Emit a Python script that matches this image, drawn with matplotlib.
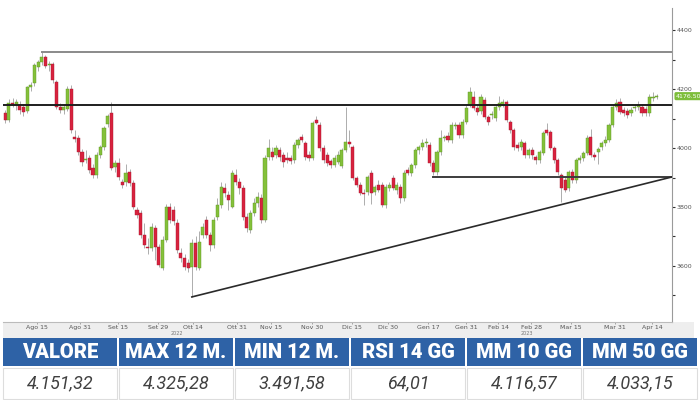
import matplotlib.pyplot as plt
import matplotlib.transforms as mtransforms
from matplotlib.patches import Rectangle

# daily candles (index 0 = first session shown)
opens = [4119, 4095, 4153, 4150, 4146, 4140, 4125, 4207, 4220, 4275,
         4291, 4308, 4280, 4285, 4225, 4140, 4128, 4132, 4200, 4038,
         4034, 3987, 3960, 3966, 3932, 3908, 3976, 4003, 4080, 4119,
         3935, 3949, 3885, 3885, 3919, 3882, 3790, 3780, 3705, 3665,
         3661, 3728, 3665, 3593, 3688, 3800, 3790, 3746, 3644, 3627,
         3610, 3597, 3678, 3593, 3705, 3756, 3705, 3671, 3766, 3807,
         3865, 3841, 3800, 3908, 3885, 3865, 3766, 3722, 3780, 3814,
         3831, 3756, 3970, 3986, 3976, 3993, 3976, 3966, 3966, 3959,
         4010, 4037, 4017, 3976, 3966, 4095, 4078, 4000, 3976, 3955,
         3942, 3952, 3940, 3993, 4020, 4003, 3898, 3875, 3848, 3851,
         3915, 3851, 3875, 3875, 3807, 3865, 3898, 3858, 3868, 3831,
         3925, 3915, 3942, 3993, 4003, 4017, 4010, 3949, 3919, 3986,
         4034, 4040, 4027, 4075, 4078, 4044, 4088, 4146, 4173, 4136,
         4125, 4163, 4105, 4112, 4102, 4139, 4146, 4156, 4088, 4061,
         4010, 4003, 4017, 3976, 3993, 3969, 3959, 3983, 4061, 4054,
         4000, 3959, 3908, 3892, 3865, 3919, 3892, 3959, 3966, 3983,
         4037, 3976, 3986, 4003, 4017, 4027, 4078, 4139, 4156, 4129,
         4125, 4119, 4136, 4139, 4139, 4132, 4119, 4170, 4173]
highs = [4130, 4165, 4170, 4168, 4160, 4150, 4212, 4225, 4288, 4300,
         4325.28, 4315, 4295, 4292, 4232, 4152, 4145, 4210, 4215, 4060,
         4045, 3998, 3995, 3975, 3945, 3985, 4012, 4075, 4115, 4156,
         3958, 3965, 3895, 3945, 3928, 3890, 3800, 3790, 3745, 3695,
         3745, 3740, 3675, 3700, 3810, 3812, 3805, 3760, 3660, 3640,
         3622, 3690, 3700, 3720, 3745, 3770, 3715, 3765, 3830, 3885,
         3880, 3855, 3925, 3930, 3900, 3875, 3780, 3790, 3830, 3850,
         3845, 3975, 4030, 4003, 4010, 4005, 3985, 3985, 3975, 4020,
         4035, 4048, 4025, 3990, 4092, 4110, 4088, 4010, 3985, 3962,
         3975, 3990, 4000, 4139, 4060, 4012, 3905, 3885, 3860, 3910,
         3925, 3875, 3890, 3885, 3878, 3885, 3910, 3885, 3878, 3925,
         3935, 3950, 4000, 4012, 4030, 4035, 4020, 3958, 3995, 4060,
         4045, 4055, 4090, 4090, 4088, 4098, 4145, 4207, 4195, 4145,
         4185, 4172, 4112, 4125, 4148, 4175, 4165, 4163, 4095, 4068,
         4020, 4030, 4025, 4000, 4003, 3978, 3995, 4058, 4085, 4060,
         4008, 3965, 3915, 3905, 3925, 3930, 3965, 3975, 3990, 4045,
         4065, 3985, 4003, 4025, 4040, 4085, 4146, 4165, 4170, 4140,
         4135, 4140, 4148, 4158, 4150, 4142, 4185, 4190, 4185]
lows = [4085, 4088, 4138, 4130, 4115, 4110, 4118, 4195, 4212, 4262,
        4282, 4270, 4262, 4222, 4132, 4120, 4115, 4125, 4052, 4020,
        3978, 3940, 3950, 3915, 3898, 3900, 3965, 3995, 4072, 3925,
        3920, 3890, 3865, 3870, 3872, 3792, 3762, 3695, 3660, 3640,
        3650, 3620, 3596, 3585, 3680, 3745, 3740, 3645, 3615, 3588,
        3580, 3495, 3588, 3585, 3695, 3695, 3650, 3662, 3755, 3795,
        3835, 3790, 3795, 3875, 3845, 3755, 3715, 3712, 3770, 3800,
        3745, 3748, 3960, 3960, 3965, 3955, 3935, 3950, 3945, 3950,
        4000, 4020, 3960, 3955, 3958, 4080, 3990, 3950, 3940, 3932,
        3935, 3945, 3932, 3985, 4005, 3890, 3868, 3840, 3807, 3842,
        3810, 3840, 3850, 3800, 3798, 3855, 3858, 3845, 3815, 3822,
        3908, 3905, 3932, 3980, 3995, 4005, 3940, 3910, 3910, 3975,
        4025, 4020, 4018, 4065, 4035, 4035, 4080, 4138, 4128, 4112,
        4115, 4098, 4078, 4098, 4092, 4130, 4138, 4088, 4052, 3995,
        3990, 3995, 3965, 3965, 3962, 3945, 3950, 3975, 4045, 3992,
        3950, 3910, 3817, 3850, 3855, 3882, 3882, 3950, 3955, 3975,
        3968, 3960, 3945, 3995, 4008, 4020, 4070, 4130, 4115, 4110,
        4102, 4110, 4125, 4130, 4110, 4108, 4110, 4160, 4165]
closes = [4095, 4153, 4150, 4155, 4129, 4122, 4207, 4214, 4281, 4291,
          4308, 4278, 4285, 4230, 4140, 4130, 4138, 4200, 4061, 4032,
          3987, 3952, 3964, 3925, 3908, 3976, 4003, 4068, 4108, 3932,
          3949, 3902, 3875, 3915, 3882, 3800, 3773, 3705, 3671, 3661,
          3732, 3665, 3603, 3688, 3800, 3756, 3752, 3654, 3627, 3597,
          3593, 3678, 3597, 3681, 3732, 3705, 3671, 3756, 3807, 3868,
          3848, 3824, 3915, 3885, 3865, 3766, 3729, 3780, 3814, 3834,
          3756, 3966, 4000, 3970, 4000, 3970, 3952, 3959, 3956, 4010,
          4027, 4027, 3970, 3966, 4085, 4085, 4000, 3959, 3949, 3942,
          3966, 3975, 3993, 4020, 4015, 3898, 3875, 3848, 3845, 3902,
          3848, 3868, 3858, 3807, 3868, 3875, 3865, 3875, 3831, 3915,
          3915, 3942, 3993, 4003, 4017, 4020, 3949, 3919, 3986, 4034,
          4037, 4027, 4078, 4078, 4044, 4088, 4136, 4190, 4136, 4122,
          4173, 4105, 4088, 4115, 4139, 4153, 4156, 4095, 4061, 4003,
          4000, 4020, 3976, 3993, 3976, 3959, 3986, 4051, 4051, 4000,
          3959, 3919, 3865, 3858, 3919, 3892, 3959, 3966, 3983, 4034,
          3976, 3969, 3997, 4017, 4027, 4078, 4139, 4153, 4122, 4119,
          4112, 4129, 4139, 4146, 4119, 4119, 4173, 4173, 4176]

tick_pos = [8.7, 20.5, 30.9, 41.8, 51.4, 63.4, 72.7, 83.9, 94.8, 104.6,
            115.6, 126, 134.7, 143.7, 154.6, 166.7, 176.8]
tick_labels = ["Ago 15", "Ago 31", "Set 15", "Set 29", "Ott 14", "Ott 31",
               "Nov 15", "Nov 30", "Dic 15", "Dic 30", "Gen 17", "Gen 31",
               "Feb 14", "Feb 28", "Mar 15", "Mar 31", "Apr 14"]
year_pos = [47, 142.6]
year_labels = ["2022", "2023"]
y_ticks = [3600, 3800, 4000, 4200, 4400]
y_minor = [3500, 3700, 3900, 4100, 4300]

max_12m = 4325.28
max_start = 10
resistance = 4146
support = 3902
support_start = 117
trend_start_x, trend_start_y = 51, 3495
last_label = "4176.50"

headers = ["VALORE", "MAX 12 M.", "MIN 12 M.", "RSI 14 GG", "MM 10 GG", "MM 50 GG"]
values = ["4.151,32", "4.325,28", "3.491,58", "64,01", "4.116,57", "4.033,15"]

GREEN = "#84c13a"
RED = "#d8223e"
BLUE = "#2e62a6"

fig = plt.figure(figsize=(7, 4), dpi=100)

# background / table layer in pixel coordinates
bg = fig.add_axes([0, 0, 1, 1], zorder=0)
bg.set_xlim(0, 700)
bg.set_ylim(400, 0)
bg.axis("off")
bg.add_patch(Rectangle((3, 322), 691, 16, color="#eeeeee", lw=0))

cell_w = 114
for k in range(len(headers)):
    x0 = 3 + k * 116
    bg.add_patch(Rectangle((x0, 338), cell_w, 28, color=BLUE, lw=0))
    bg.add_patch(Rectangle((x0, 367.5), cell_w, 31, fc="white", ec="#dddddd", lw=0.8))
    bg.text(x0 + cell_w / 2, 352.5, headers[k], ha="center", va="center",
            color="white", fontsize=14.5, fontweight="heavy", family=["Roboto", "DejaVu Sans"])
    bg.text(x0 + cell_w / 2, 383, values[k], ha="center", va="center",
            color="#404040", fontsize=13, fontstyle="italic", fontweight="normal",
            family=["Roboto", "DejaVu Sans"])

# price chart
ax = fig.add_axes([3 / 700, 78 / 400, 669 / 700, 314 / 400], zorder=1)
ax.set_facecolor("white")
xmax = 182.2
ax.set_xlim(-0.6, xmax)
ax.set_ylim(3410, 4475)

idx = list(range(len(opens)))
ax.vlines(idx, lows, highs, color="#a0a0a0", lw=0.6, zorder=2)
bottoms = [min(o, c) for o, c in zip(opens, closes)]
heights = [max(abs(c - o), 3) for o, c in zip(opens, closes)]
colors = [GREEN if c >= o else RED for o, c in zip(opens, closes)]
edges = ["#5e9424" if c >= o else "#a8182f" for o, c in zip(opens, closes)]
ax.bar(idx, heights, bottom=bottoms, width=0.85, color=colors,
       edgecolor=edges, linewidth=0.3, zorder=3)

# levels
ax.plot([max_start, xmax], [max_12m, max_12m], color="#8a8a8a", lw=1.4, zorder=4)
ax.plot([-0.6, xmax], [resistance, resistance], color="#1e1e1e", lw=1.4, zorder=4)
ax.plot([support_start, xmax], [support, support], color="#3c3c3c", lw=1.4, zorder=4)
ax.plot([trend_start_x, xmax], [trend_start_y, support], color="#2a2a2a", lw=1.2, zorder=4)

for side in ["top", "left"]:
    ax.spines[side].set_visible(False)
ax.spines["right"].set_color("#9a9a9a")
ax.spines["bottom"].set_color("#bbbbbb")

ax.yaxis.tick_right()
ax.set_yticks(y_ticks)
ax.set_yticklabels([str(v) for v in y_ticks])
ax.set_yticks(y_minor, minor=True)
ax.tick_params(axis="y", which="both", direction="out", length=2.5, width=0.8,
               color="#333333", labelsize=4.5, labelcolor="#555555", pad=1)
ax.set_xticks(tick_pos)
ax.set_xticklabels(tick_labels)
ax.tick_params(axis="x", direction="out", length=1.5, width=0.5, color="#888888",
               labelsize=4.5, labelcolor="#555555", pad=1)

trans = mtransforms.blended_transform_factory(ax.transData, ax.transAxes)
for p, lab in zip(year_pos, year_labels):
    ax.text(p, -0.036, lab, transform=trans, ha="center", va="center",
            fontsize=3.5, color="#777777")

trans_y = mtransforms.blended_transform_factory(ax.transAxes, ax.transData)
ax.text(1.006, closes[-1], last_label, transform=trans_y, ha="left", va="center",
        fontsize=4.5, color="white", clip_on=False,
        bbox=dict(boxstyle="round,pad=0.25", fc="#7dbd3a", ec="none"))

fig.savefig("out.png", dpi=100)
